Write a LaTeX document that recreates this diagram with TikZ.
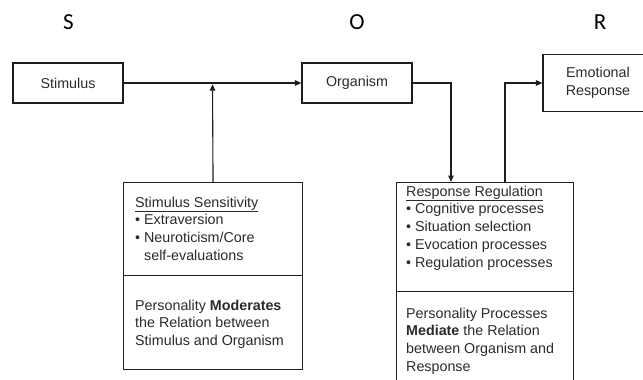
\documentclass[tikz,border=0pt]{standalone}
\usepackage{fontspec}
\setmainfont{Liberation Sans}
\newfontfamily\sorfont{Carlito}
\usetikzlibrary{arrows.meta}
\definecolor{lncol}{HTML}{1E1E1E}
\definecolor{txcol}{HTML}{2A2A2A}
\tikzset{
  boxnode/.style={draw=lncol, line width=1.1pt, rectangle, inner sep=0pt, text=txcol,
    font=\fontsize{14.3}{18}\selectfont, align=center},
  partbox/.style={draw=lncol, line width=1.1pt, rectangle, inner sep=0pt, anchor=north west},
  blocktext/.style={anchor=north west, inner sep=0pt, align=left, text=txcol,
    font=\fontsize{14.3}{17.8}\selectfont},
  sorlabel/.style={inner sep=0pt, text=black, font=\sorfont\fontsize{23}{27}\selectfont},
  arr/.style={draw=lncol, line width=1.1pt, -{Triangle[length=6.5pt,width=5.5pt]}},
  conn/.style={draw=lncol, line width=1.1pt}
}
\begin{document}
\begin{tikzpicture}[x=1pt,y=-1pt]
\clip (0,0) rectangle (643,380);
% S O R labels
\node[sorlabel] (lS) at (68.5,22) {S};
\node[sorlabel] (lO) at (357,22) {O};
\node[sorlabel] (lR) at (600,22) {R};
% top row boxes
\node[boxnode, minimum width=110pt, minimum height=40pt] (stim) at (68,83) {Stimulus};
\node[boxnode, minimum width=110pt, minimum height=40pt] (org) at (357,83) {Organism};
\node[boxnode, minimum width=110pt, minimum height=57pt] (emo) at (598,83) {Emotional\\Response};
% stimulus sensitivity box
\node[partbox, minimum width=179pt, minimum height=93pt] (sensTop) at (123,182) {};
\node[partbox, minimum width=179pt, minimum height=94pt] (sensBot) at (123,275) {};
\node[blocktext] (sensTxt) at (135,196.5) {\underline{Stimulus\ Sensitivity}\\
  • Extraversion\\
  • Neuroticism/Core\\
  \hphantom{• }self-evaluations};
\node[blocktext] (modTxt) at (135,299.5) {Personality \textbf{Moderates}\\
  the Relation between\\
  Stimulus and Organism};
% response regulation box
\node[partbox, minimum width=177pt, minimum height=109pt] (regTop) at (396,182) {};
\node[partbox, minimum width=177pt, minimum height=120pt] (regBot) at (396,291) {};
\node[blocktext] (regTxt) at (406,185.5) {\underline{Response Regulation}\\
  • Cognitive processes\\
  • Situation selection\\
  • Evocation processes\\
  • Regulation processes};
\node[blocktext] (medTxt) at (406,307.5) {Personality Processes\\
  \textbf{Mediate} the Relation\\
  between Organism and\\
  Response};
% connectors
\coordinate (junc) at (212.5,84.2);
\coordinate (regIn) at (451,182);
\coordinate (regOut) at (505,182);
\draw[arr] (stim.east) -- (org.west);
\draw[arr] (sensTop.north) -- (junc);
\draw[arr] (org.east) -| (regIn);
\draw[arr] (regOut) |- (emo.west);
\end{tikzpicture}
\end{document}
